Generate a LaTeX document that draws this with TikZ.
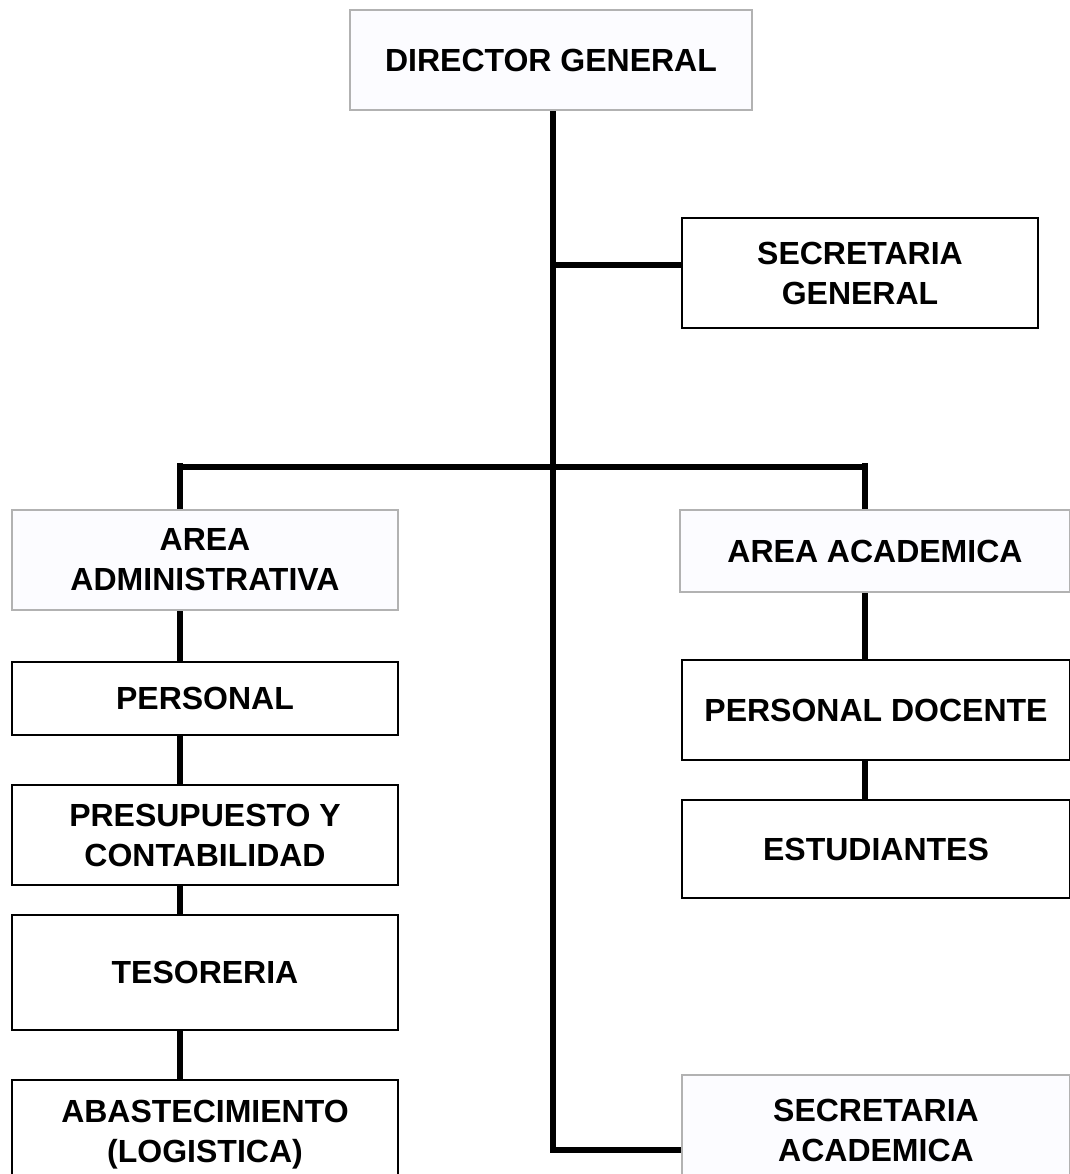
\documentclass[tikz,border=0pt]{standalone}
\usepackage{fontspec}
\setmainfont{Liberation Sans}
\usetikzlibrary{positioning}

\begin{document}
\begin{tikzpicture}[
    x=0.5pt, y=-0.5pt,
    unit/.style={draw, line width=1pt, align=center, inner sep=0pt,
        font=\bfseries\fontsize{16}{20}\selectfont},
    head/.style={unit, draw=gray!60, fill=blue!1, line width=1.4pt},
    link/.style={line width=2.7pt}
]
\useasboundingbox (0,0) rectangle (1070,1174);

% Define boxes
\node[head, minimum width=201pt, minimum height=50pt] (DG) at (551,60) {DIRECTOR GENERAL};
\node[unit, minimum width=178pt, minimum height=55pt] (SG) at (860,273) {SECRETARIA\\GENERAL};
\node[head, minimum width=193pt, minimum height=50pt] (ADM) at (205,560) {AREA\\ADMINISTRATIVA};
\node[unit, minimum width=193pt, minimum height=36.5pt] (PER) at (205,698.5) {PERSONAL};
\node[unit, minimum width=193pt, minimum height=50pt] (PRE) at (205,835) {PRESUPUESTO Y\\CONTABILIDAD};
\node[unit, minimum width=193pt, minimum height=57.5pt] (TES) at (205,972.5) {TESORERIA};
\node[unit, minimum width=193pt, minimum height=55pt] (ABA) at (205,1135) {ABASTECIMIENTO\\(LOGISTICA)};
\node[head, minimum width=195pt, minimum height=41pt] (ACA) at (875,551) {AREA ACADEMICA};
\node[unit, minimum width=194pt, minimum height=50pt] (DOC) at (876,710) {PERSONAL DOCENTE};
\node[unit, minimum width=194pt, minimum height=49pt] (EST) at (876,849) {ESTUDIANTES};
\node[head, minimum width=194pt, minimum height=55pt] (SAC) at (876,1130) {SECRETARIA\\ACADEMICA};

% Junctions
\coordinate (jsg) at (553,265);
\coordinate (jend) at (553,1150);
\coordinate (lt) at (180,467);
\coordinate (rt) at (865,467);

% Connectors
\draw[link] (jsg |- DG.south) -- (jend) -- (jend -| SAC.west);
\draw[link] (jsg) -- (jsg -| SG.west);
\draw[link] (lt) -- (rt);
\draw[link] ([yshift=2pt]lt) -- (lt |- ADM.north);
\draw[link] ([yshift=2pt]rt) -- (rt |- ACA.north);
\draw[link] (lt |- ADM.south) -- (lt |- PER.north);
\draw[link] (lt |- PER.south) -- (lt |- PRE.north);
\draw[link] (lt |- PRE.south) -- (lt |- TES.north);
\draw[link] (lt |- TES.south) -- (lt |- ABA.north);
\draw[link] (rt |- ACA.south) -- (rt |- DOC.north);
\draw[link] (rt |- DOC.south) -- (rt |- EST.north);

\end{tikzpicture}
\end{document}
